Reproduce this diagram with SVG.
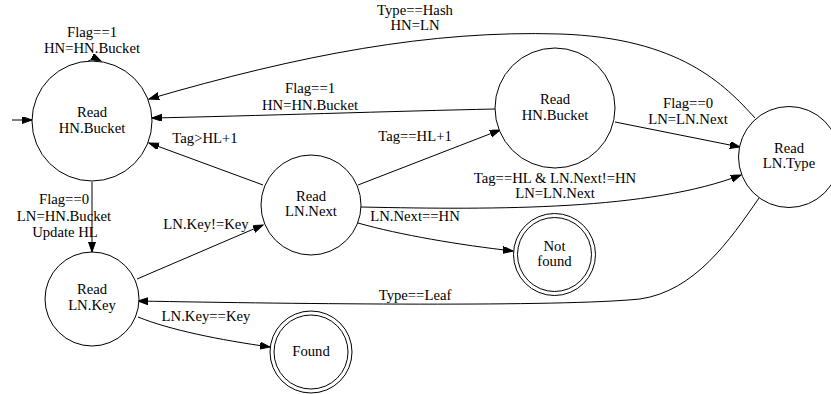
<svg xmlns="http://www.w3.org/2000/svg" width="831" height="394" viewBox="0 0 831 394">
<style>
text{font-family:"Liberation Serif","Times New Roman",serif;font-size:14.7px;fill:#000;text-anchor:middle}
.n{fill:#fff;stroke:#000;stroke-width:1}
.e{fill:none;stroke:#000;stroke-width:1;marker-end:url(#ah)}
</style>
<defs>
<marker id="ah" markerUnits="userSpaceOnUse" markerWidth="11" markerHeight="8" refX="10" refY="3.5" orient="auto">
<path d="M0,0 L10,3.5 L0,7 z" fill="#000" stroke="#000" stroke-width="1"/>
</marker>
</defs>
<rect width="831" height="394" fill="#fff"/>
<g id="edges">
<path class="e" d="M12,120 L32,120"/>
<path class="e" d="M86,63 C90,59 95,58 101,61"/>
<path class="e" d="M92,182 L92,252"/>
<path class="e" d="M755,118 C725,85 680,38 560,34 C430,30 300,55 149,99"/>
<path class="e" d="M495,109 C400,111 250,116 152,118"/>
<path class="e" d="M263,185 L149,143"/>
<path class="e" d="M358,185 L500,130"/>
<path class="e" d="M615,122 L740,147"/>
<path class="e" d="M361,207 C500,210 650,210 741,175"/>
<path class="e" d="M358,223 C400,235 460,245 513,251"/>
<path class="e" d="M137,279 L263,225"/>
<path class="e" d="M138,317 C170,330 220,340 270,347"/>
<path class="e" d="M759,198 C730,240 695,291 640,299 C560,307 300,304 138,301"/>
</g>
<g id="labels">
<text x="92" y="37">Flag==1</text>
<text x="92" y="53">HN=HN.Bucket</text>
<text x="64" y="204">Flag==0</text>
<text x="64" y="221">LN=HN.Bucket</text>
<text x="65" y="237">Update HL</text>
<text x="415" y="15">Type==Hash</text>
<text x="415" y="30">HN=LN</text>
<text x="310" y="93">Flag==1</text>
<text x="310" y="110">HN=HN.Bucket</text>
<text x="205" y="143">Tag&gt;HL+1</text>
<text x="415" y="141">Tag==HL+1</text>
<text x="688" y="108">Flag==0</text>
<text x="688" y="124">LN=LN.Next</text>
<text x="555" y="183">Tag==HL &amp; LN.Next!=HN</text>
<text x="555" y="198">LN=LN.Next</text>
<text x="415" y="221">LN.Next==HN</text>
<text x="206" y="229">LN.Key!=Key</text>
<text x="206" y="321">LN.Key==Key</text>
<text x="415" y="300">Type==Leaf</text>
</g>
<g id="n_hnbucket1">
<circle class="n" cx="92" cy="121" r="60"/>
<text x="92" y="117">Read</text>
<text x="92" y="133">HN.Bucket</text>
</g>
<g id="n_lnkey">
<circle class="n" cx="92" cy="299" r="47"/>
<text x="92" y="294">Read</text>
<text x="92" y="310">LN.Key</text>
</g>
<g id="n_lnnext">
<circle class="n" cx="311" cy="205" r="50"/>
<text x="311" y="201">Read</text>
<text x="311" y="216">LN.Next</text>
</g>
<g id="n_hnbucket2">
<circle class="n" cx="555" cy="108" r="60"/>
<text x="555" y="104">Read</text>
<text x="555" y="120">HN.Bucket</text>
</g>
<g id="n_lntype">
<circle class="n" cx="789" cy="157" r="50.5"/>
<text x="789" y="153">Read</text>
<text x="789" y="168">LN.Type</text>
</g>
<g id="n_notfound">
<circle class="n" cx="554.5" cy="254.5" r="41"/>
<circle class="n" cx="554.5" cy="254.5" r="37"/>
<text x="554.5" y="251">Not</text>
<text x="554.5" y="266">found</text>
</g>
<g id="n_found">
<circle class="n" cx="311" cy="352" r="41"/>
<circle class="n" cx="311" cy="352" r="37"/>
<text x="311" y="356">Found</text>
</g>
</svg>
